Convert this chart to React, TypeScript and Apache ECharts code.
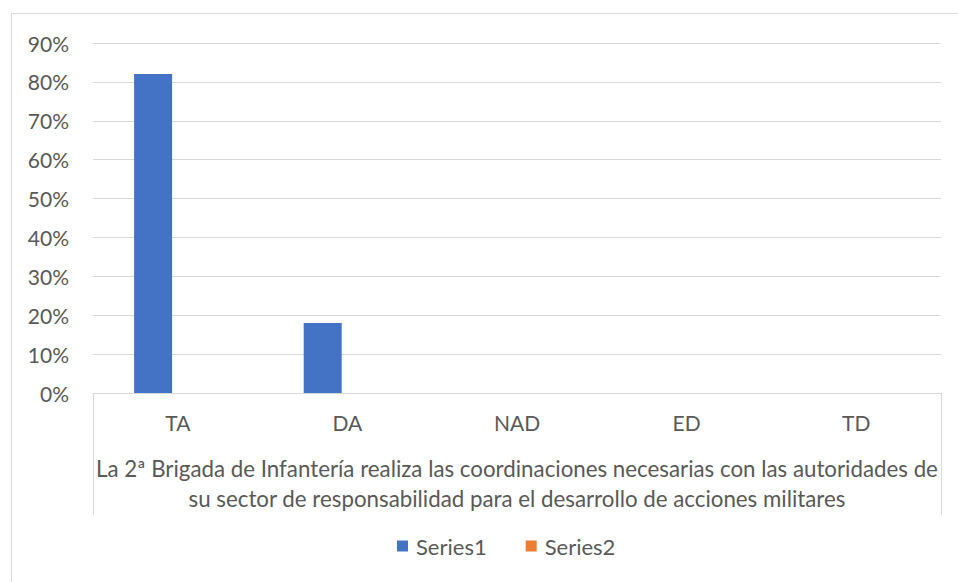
import React, { useEffect, useRef } from "react";
import * as echarts from "echarts";

const categories = ["TA", "DA", "NAD", "ED", "TD"];
const groupLabelLines = [
  "La 2ª Brigada de Infantería realiza las coordinaciones necesarias con las autoridades de",
  "su sector de responsabilidad para el desarrollo de acciones militares",
];
const groupLabel = [groupLabelLines.join("\n")];
const series1 = [0.82, 0.18, 0, 0, 0];
const series2 = [0, 0, 0, 0, 0];
const seriesNames = ["Series1", "Series2"];

const FONT = "Lato, 'Open Sans', sans-serif";
const TEXT = "#595959";
const GRID = "#d9d9d9";
const FS = 21;

export default function App() {
  const ref = useRef<HTMLDivElement>(null);
  useEffect(() => {
    if (!ref.current) return;
    const chart = echarts.init(ref.current, undefined, { renderer: "svg" });
    chart.setOption({
      animation: false,
      textStyle: { fontFamily: FONT },
      graphic: [
        {
          type: "rect",
          shape: { x: 11.5, y: 13.5, width: 980, height: 600 },
          style: { fill: "none", stroke: GRID, lineWidth: 1 },
          silent: true,
        },
      ],
      legend: {
        data: seriesNames,
        bottom: 20,
        left: 392,
        itemWidth: 11,
        itemHeight: 11,
        itemGap: 39,
        icon: "rect",
        textStyle: { fontSize: 22, color: TEXT, fontFamily: FONT, padding: [0, 0, 0, 3] },
      },
      grid: { left: 93, right: 17, top: 43, bottom: 189, containLabel: false },
      xAxis: [
        {
          type: "category",
          data: categories,
          axisLine: { show: true, lineStyle: { color: GRID, width: 1 } },
          axisTick: { show: false },
          axisLabel: { fontSize: FS, color: TEXT, margin: 19, fontFamily: FONT },
        },
        {
          type: "category",
          data: groupLabel,
          position: "bottom",
          axisLine: { show: false },
          axisTick: { show: true, length: 122, lineStyle: { color: GRID, width: 1 } },
          axisLabel: {
            fontSize: 22.3,
            color: TEXT,
            margin: 60,
            lineHeight: 30,
            align: "center",
            fontFamily: FONT,
          },
        },
      ],
      yAxis: {
        type: "value",
        min: 0,
        max: 0.9,
        interval: 0.1,
        axisLine: { show: false },
        axisTick: { show: false },
        splitLine: { lineStyle: { color: GRID, width: 1 } },
        axisLabel: {
          fontSize: FS,
          color: TEXT,
          margin: 24,
          fontFamily: FONT,
          formatter: (v: number) => Math.round(v * 100) + "%",
        },
      },
      series: [
        {
          name: seriesNames[0],
          type: "bar",
          data: series1,
          barWidth: 38,
          barGap: "30%",
          itemStyle: { color: "#4472c4" },
        },
        {
          name: seriesNames[1],
          type: "bar",
          data: series2,
          barWidth: 38,
          barGap: "30%",
          itemStyle: { color: "#ed7d31" },
        },
      ],
    });
    return () => chart.dispose();
  }, []);
  return (
    <div
      ref={ref}
      style={{ position: "fixed", left: 0, top: 0, width: 958, height: 582, background: "#fff" }}
    />
  );
}
